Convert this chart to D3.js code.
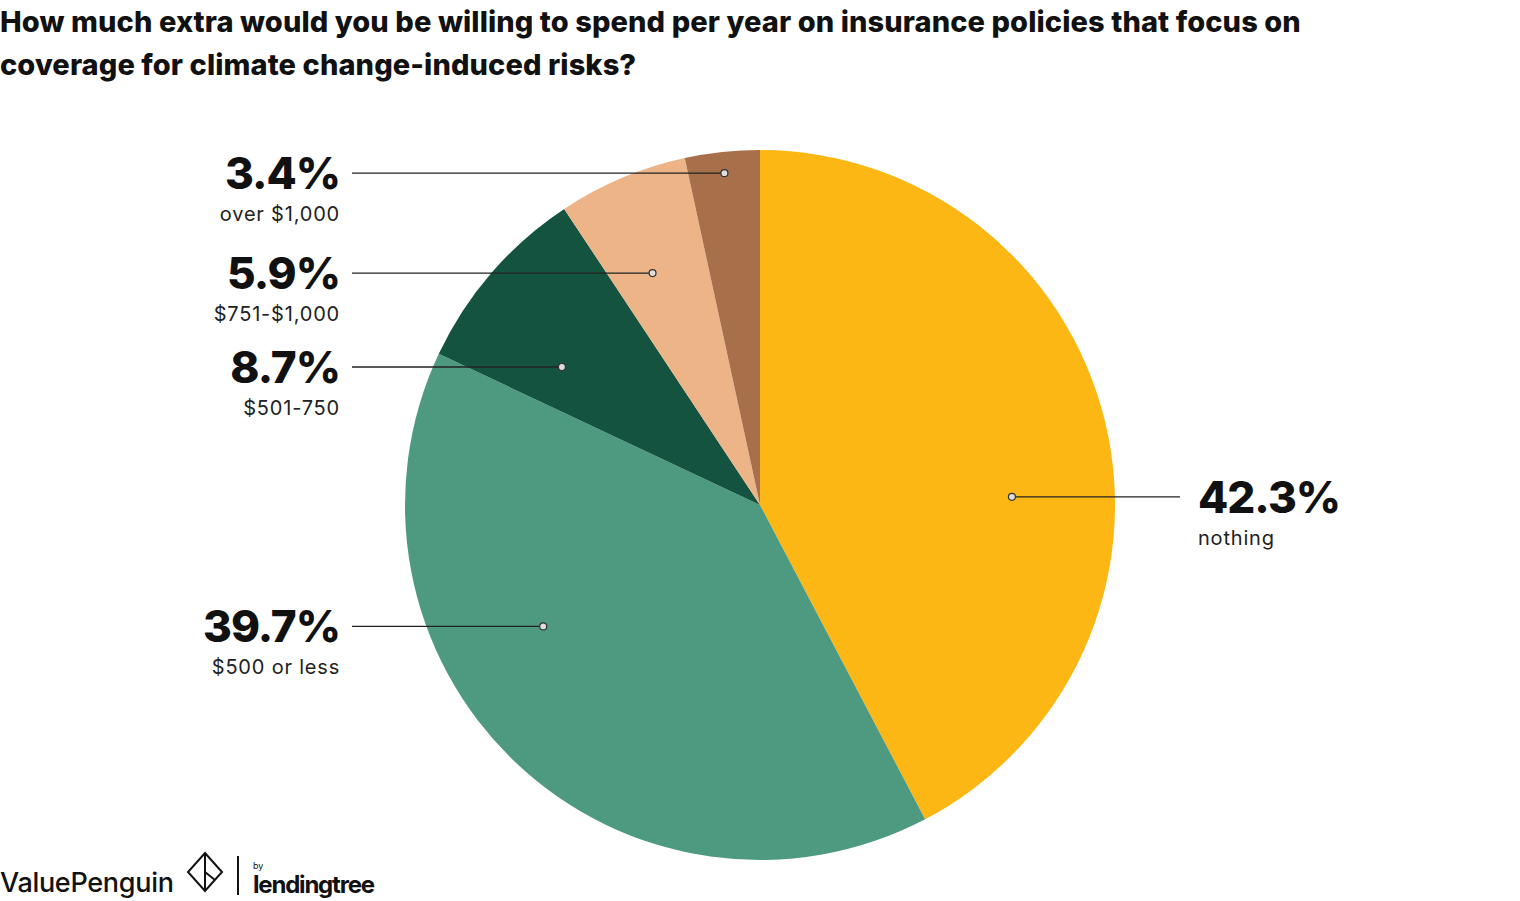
<!DOCTYPE html>
<html lang="en">
<head>
<meta charset="UTF-8">
<title>Climate insurance spend</title>
<style>
  body { margin: 0; background: #fff; font-family: Inter, Arial, sans-serif; }
  .title { position: absolute; left: 0; top: 0px; font-size: 29px; font-weight: 800; line-height: 43px; color: #111; letter-spacing: 0.1px; }
</style>
</head>
<body>
<div class="title">How much extra would you be willing to spend per year on insurance policies that focus on<br>coverage for climate change-induced risks?</div>
<svg width="1520" height="901"></svg>
<script src="https://d3js.org/d3.v7.min.js"></script>
<script>
const categories = ["nothing", "$500 or less", "$501-750", "$751-$1,000", "over $1,000"];
const values = [42.3, 39.7, 8.7, 5.9, 3.4];
const colors = ["#FDB714", "#4E9A80", "#14533F", "#EDB487", "#A8704A"];
// leader dot placement (angle shift in degrees, radius fraction)
const dotShift = [12, 17, -6, -2, 0];
const dotRadius = [0.71, 0.70, 0.68, 0.72, 0.94];

const cx = 760, cy = 505, r = 355;
const svg = d3.select("svg");
const g = svg.append("g").attr("transform", `translate(${cx},${cy})`);

const pie = d3.pie().sort(null).value(d => d);
const arcs = pie(values);
const arc = d3.arc().innerRadius(0).outerRadius(r);

g.selectAll("path").data(arcs).enter().append("path")
  .attr("d", arc).attr("fill", (d, i) => colors[i]);

arcs.forEach((d, i) => {
  const a = (d.startAngle + d.endAngle) / 2 + dotShift[i] * Math.PI / 180;
  const rr = r * dotRadius[i];
  const x = rr * Math.sin(a), y = -rr * Math.cos(a);
  const right = x > 0;
  const lx = right ? 420 : -408;
  g.append("line").attr("x1", x).attr("y1", y).attr("x2", lx).attr("y2", y)
    .attr("stroke", "#222").attr("stroke-width", 1.3);
  g.append("circle").attr("cx", x).attr("cy", y).attr("r", 3.5)
    .attr("fill", "#ddd").attr("stroke", "#333").attr("stroke-width", 1.2);
  const tx = right ? 438 : -420;
  const anchor = right ? "start" : "end";
  g.append("text").attr("x", tx).attr("y", y + 16).attr("text-anchor", anchor)
    .attr("font-size", 44).attr("font-weight", 800).attr("fill", "#111")
    .attr("letter-spacing", -1).text(values[i].toFixed(1) + "%");
  g.append("text").attr("x", tx).attr("y", y + 48).attr("text-anchor", anchor)
    .attr("font-size", 20).attr("fill", "#222").attr("letter-spacing", 0.8).text(categories[i]);
});

// footer logos
const f = svg.append("g");
f.append("text").attr("x", 0).attr("y", 892).attr("font-size", 27).attr("font-weight", 500)
  .attr("fill", "#111").attr("letter-spacing", -0.3).text("ValuePenguin");
f.append("path").attr("d", "M205 853 L222 872 L205 891 L188 872 Z M205 853 L205 891 M205 872 L215 880")
  .attr("fill", "none").attr("stroke", "#111").attr("stroke-width", 2);
f.append("line").attr("x1", 238).attr("y1", 856).attr("x2", 238).attr("y2", 895)
  .attr("stroke", "#111").attr("stroke-width", 2);
f.append("text").attr("x", 253).attr("y", 869).attr("font-size", 9).attr("fill", "#111").text("by");
f.append("text").attr("x", 253).attr("y", 893).attr("font-size", 24).attr("font-weight", 700)
  .attr("fill", "#111").attr("letter-spacing", -1.2).text("lendingtree");
</script>
</body>
</html>
